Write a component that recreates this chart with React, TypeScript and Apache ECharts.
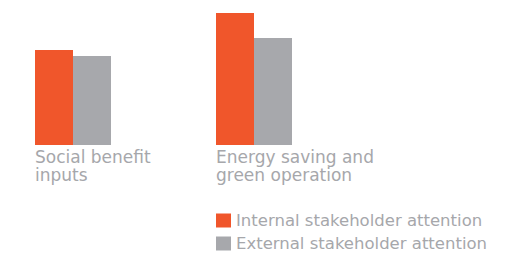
import React, { useEffect, useRef } from "react";
import * as echarts from "echarts";

const categories = ["Social benefit\ninputs", "Energy saving and\ngreen operation"];
const internalValues = [95, 132];
const externalValues = [89, 107];
const seriesNames = ["Internal stakeholder attention", "External stakeholder attention"];

export default function App() {
  const ref = useRef<HTMLDivElement>(null);
  useEffect(() => {
    const chart = echarts.init(ref.current!, null, { renderer: "svg" });
    const textColor = "#a6a7ab";
    const legendBase = {
      orient: "vertical",
      left: 216,
      padding: 0,
      itemWidth: 15,
      itemHeight: 14,
      itemGap: 8,
      icon: "rect",
      textStyle: { color: textColor, fontSize: 16.5, fontFamily: "DejaVu Sans" },
    };
    chart.setOption({
      animation: false,
      grid: { left: 73, width: 181, top: 5, height: 140, containLabel: false },
      xAxis: {
        type: "category",
        data: categories,
        boundaryGap: false,
        axisLine: { show: false },
        axisTick: { show: false },
        axisLabel: {
          align: "left",
          margin: 3,
          padding: [0, 0, 0, -38],
          color: textColor,
          fontSize: 17,
          lineHeight: 18,
          fontFamily: "DejaVu Sans",
          interval: 0,
        },
      },
      yAxis: { type: "value", min: 0, max: 140, show: false, splitLine: { show: false } },
      legend: [
        { ...legendBase, top: 212, data: [seriesNames[0]] },
        { ...legendBase, top: 235, data: [seriesNames[1]] },
      ],
      series: [
        {
          name: seriesNames[0],
          type: "bar",
          data: internalValues,
          barWidth: 38,
          barGap: "0%",
          itemStyle: { color: "#f0562b" },
        },
        {
          name: seriesNames[1],
          type: "bar",
          data: externalValues,
          barWidth: 38,
          barGap: "0%",
          itemStyle: { color: "#a7a8ac" },
        },
      ],
    });
    return () => chart.dispose();
  }, []);
  return <div ref={ref} style={{ width: 530, height: 258, position: "absolute", left: 0, top: 0 }} />;
}
